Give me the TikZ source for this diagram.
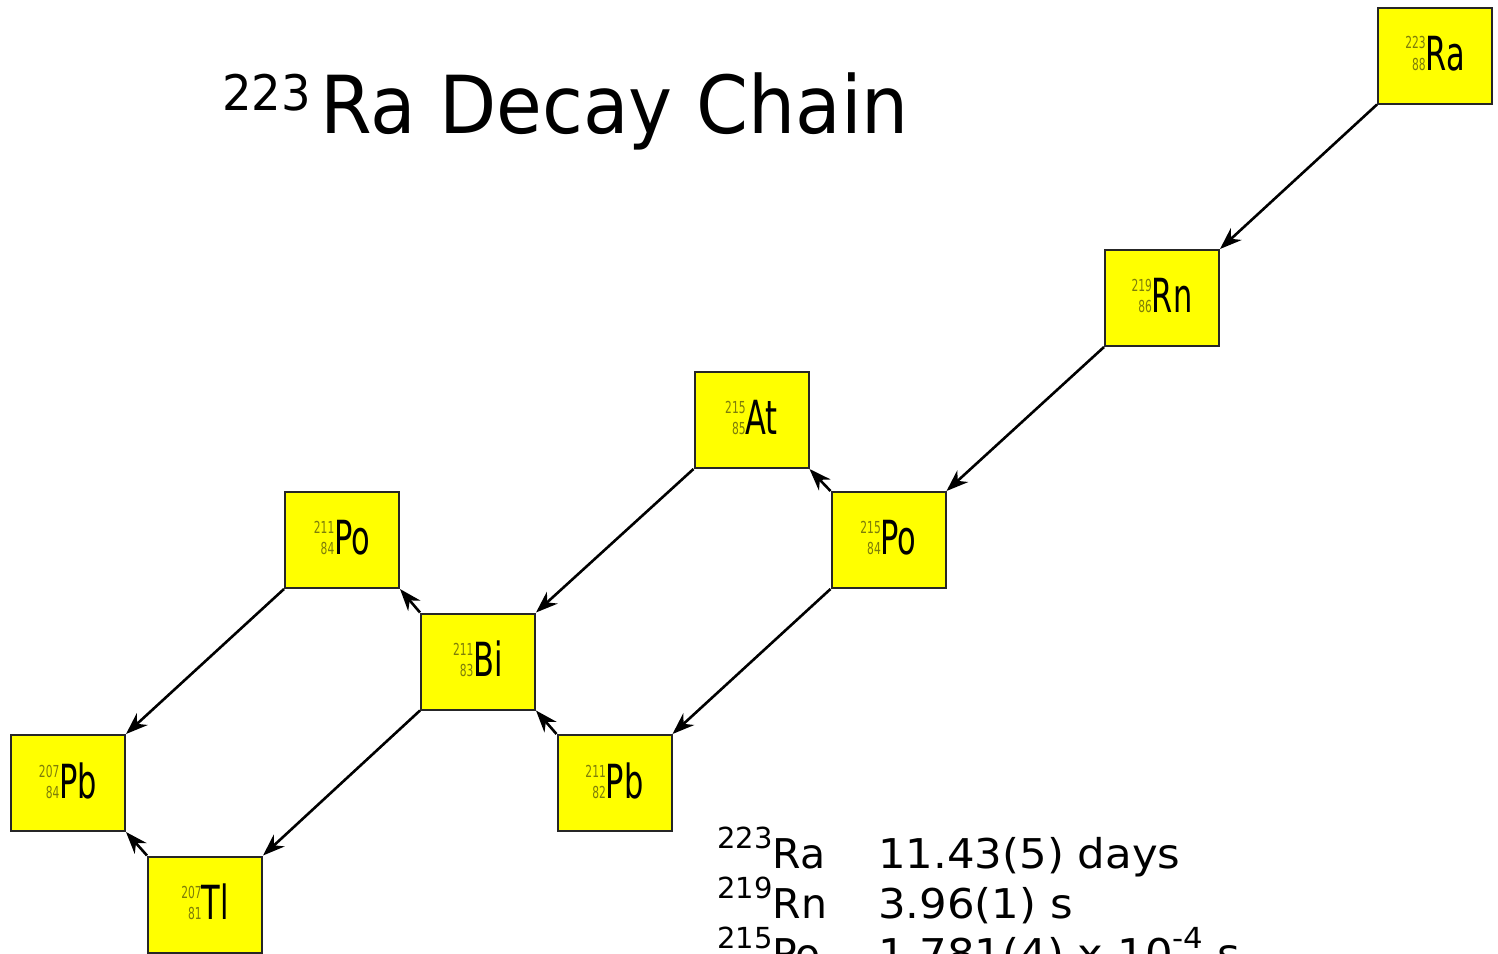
\documentclass[tikz,border=0pt]{standalone}
\usepackage{fontspec}
\setmainfont{DejaVu Sans}
\newfontfamily\condfont{DejaVu Sans Condensed}
\usetikzlibrary{arrows.meta}
\definecolor{isoyellow}{RGB}{255,255,0}
\definecolor{isonum}{RGB}{125,125,10}
\newcommand{\iso}[3]{\condfont\scalebox{0.72}[1]{\fontsize{16.5}{16.5}\selectfont\color{isonum}\begin{tabular}[b]{@{}r@{}}#1\\[4pt]#2\end{tabular}}\scalebox{0.72}[1]{\fontsize{47}{47}\selectfont #3}\hspace{6pt}}
\newcommand{\supr}[1]{\raisebox{20pt}{\fontsize{29}{29}\selectfont #1}}
\tikzset{
  nuc/.style={draw=black!85, line width=2pt, fill=isoyellow, minimum width=114pt, minimum height=96pt, inner sep=0pt},
  decay/.style={line width=2.6pt, -{Stealth[length=22pt,width=16pt,inset=7pt]}},
  title/.style={anchor=base west, inner sep=0pt, font=\fontsize{80}{80}\selectfont},
  info/.style={anchor=base west, inner sep=0pt, font=\fontsize{41}{41}\selectfont}
}
\begin{document}
\begin{tikzpicture}[x=1pt,y=-1pt]
\clip (0,0) rectangle (1498,953);
\fill[white] (0,0) rectangle (1498,953);
% title
\node[title] (ttl) at (222,133) {\scalebox{0.95}[1]{\raisebox{23pt}{\fontsize{49}{49}\selectfont 223}}\hspace{9pt}\scalebox{0.93}[1]{Ra Decay Chain}};
% nuclides
\node[nuc] (ra) at (1435,55.5) {\iso{223}{88}{Ra}};
\node[nuc] (rn) at (1162,298) {\iso{219}{86}{Rn}};
\node[nuc] (at) at (751.5,420) {\iso{215}{85}{At}};
\node[nuc] (po215) at (888.5,540) {\iso{215}{84}{Po}};
\node[nuc] (po211) at (342,540) {\iso{211}{84}{Po}};
\node[nuc] (bi) at (478,661.5) {\iso{211}{83}{Bi}};
\node[nuc] (pb211) at (614.5,783) {\iso{211}{82}{Pb}};
\node[nuc] (pb207) at (68,783) {\iso{207}{84}{Pb}};
\node[nuc] (tl) at (205,904.5) {\iso{207}{81}{Tl}};
% decays
\draw[decay] (ra.south west) -- (rn.north east);
\draw[decay] (rn.south west) -- (po215.north east);
\draw[decay] (po215.north west) -- (at.south east);
\draw[decay] (at.south west) -- (bi.north east);
\draw[decay] (po215.south west) -- (pb211.north east);
\draw[decay] (pb211.north west) -- (bi.south east);
\draw[decay] (bi.north west) -- (po211.south east);
\draw[decay] (bi.south west) -- (tl.north east);
\draw[decay] (po211.south west) -- (pb207.north east);
\draw[decay] (tl.north west) -- (pb207.south east);
% half-lives
\node[info] (n1) at (717,868) {\supr{223}Ra};
\node[info] (h1) at (878,868) {\scalebox{1.06}[1]{11.43(5) days}};
\node[info] (n2) at (717,918) {\supr{219}Rn};
\node[info] (h2) at (878,918) {\scalebox{1.06}[1]{3.96(1) s}};
\node[info] (n3) at (717,968) {\supr{215}Po};
\node[info] (h3) at (878,968) {\scalebox{1.06}[1]{1.781(4) x 10\supr{-4} s}};
\end{tikzpicture}
\end{document}
